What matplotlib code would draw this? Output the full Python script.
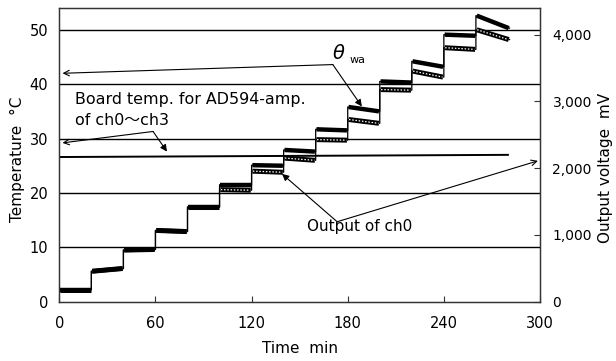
import matplotlib
matplotlib.use("Agg")
import matplotlib.pyplot as plt

# ---- data ----
step_start = [0, 20, 40, 60, 80, 100, 120, 140, 160, 180, 200, 220, 240, 260]
step_end = [20, 40, 60, 80, 100, 120, 140, 160, 180, 200, 220, 240, 260, 281]
theta_wa_start = [2.2, 5.6, 9.5, 13.1, 17.4, 21.5, 25.1, 27.9, 31.7, 35.8, 40.5, 44.2, 49.1, 52.6]
theta_wa_end = [2.2, 6.1, 9.6, 12.9, 17.4, 21.5, 25.0, 27.6, 31.5, 35.0, 40.3, 43.2, 48.9, 50.3]
ch0_start = [2.2, 5.6, 9.5, 13.1, 17.4, 20.6, 24.0, 26.4, 29.8, 33.5, 39.0, 42.4, 46.7, 50.0]
ch0_end = [2.2, 6.1, 9.6, 12.9, 17.4, 20.5, 23.8, 26.0, 29.7, 32.8, 38.9, 41.3, 46.4, 48.2]
board_t = [0, 280]
board_temp = [26.6, 27.0]

x_ticks = [0, 60, 120, 180, 240, 300]
left_ticks = [0, 10, 20, 30, 40, 50]
right_ticks = [0, 1000, 2000, 3000, 4000]
right_labels = ["0", "1,000", "2,000", "3,000", "4,000"]

FONT = ["DejaVu Sans", "Noto Sans CJK JP"]
plt.rcParams["font.family"] = FONT

fig = plt.figure(figsize=(6.16, 3.61), dpi=100)
ax = fig.add_axes([0.0963, 0.1643, 0.7803, 0.8135])
ax.set_xlim(0, 300)
ax.set_ylim(0, 54)

for s in ax.spines.values():
    s.set_color("#333333")
    s.set_linewidth(0.9)

# horizontal grid lines
for v in left_ticks[1:]:
    ax.axhline(v, color="black", lw=1.0, zorder=1)

# board temperature line
ax.plot(board_t, board_temp, color="black", lw=1.4, zorder=2)


def stepped(starts, ends):
    xs, ys = [], []
    for t0, t1, a, b in zip(step_start, step_end, starts, ends):
        xs += [t0, t1]
        ys += [a, b]
    return xs, ys


# thin connecting lines (vertical rises)
for sv, ev in [(ch0_start, ch0_end), (theta_wa_start, theta_wa_end)]:
    xs, ys = stepped(sv, ev)
    ax.plot(xs, ys, color="black", lw=0.9, zorder=3)

# plateaus
for t0, t1, a, b in zip(step_start, step_end, ch0_start, ch0_end):
    ax.plot([t0 + 0.5, t1 - 0.5], [a, b], color="black", lw=3.6,
            solid_capstyle="butt", zorder=4)
    ax.plot([t0 + 0.8, t1 - 0.8], [a, b], color="white", lw=0.9,
            linestyle=(0, (1.2, 1.4)), zorder=5)
for t0, t1, a, b in zip(step_start, step_end, theta_wa_start, theta_wa_end):
    ax.plot([t0 + 0.5, t1 - 0.5], [a, b], color="black", lw=3.2,
            solid_capstyle="butt", zorder=6)

# ticks
ax.set_xticks(x_ticks)
ax.set_xticklabels([str(v) for v in x_ticks], fontsize=10.5)
ax.tick_params(axis="x", direction="in", length=4, pad=10, color="#333333")
ax.set_yticks(left_ticks)
ax.set_yticklabels([str(v) for v in left_ticks], fontsize=10.5)
ax.tick_params(axis="y", length=0, pad=8)

ax2 = ax.twinx()
ax2.set_ylim(0, 4400)
ax2.set_yticks(right_ticks)
ax2.set_yticklabels(right_labels, fontsize=10)
ax2.tick_params(axis="y", direction="in", length=4, pad=9, color="#333333")
for s in ax2.spines.values():
    s.set_color("#333333")
    s.set_linewidth(0.9)

# axis labels
fig.text(0.029, 0.56, "Temperature  \u00b0C", rotation=90, ha="center",
         va="center", fontsize=11)
fig.text(0.983, 0.535, "Output voltage  mV", rotation=90, ha="center",
         va="center", fontsize=11)
fig.text(0.487, 0.036, "Time  min", ha="center", va="center", fontsize=11)

# annotations
open_arrow = dict(arrowstyle="->", lw=0.8, color="black", shrinkA=0, shrinkB=0)
fill_arrow = dict(arrowstyle="-|>", lw=0.8, color="black", shrinkA=0,
                  shrinkB=0, mutation_scale=10)

# theta_wa
ax.text(174.5, 45.7, r"$\theta$", fontsize=14, ha="center", va="center")
ax.text(186, 44.4, "wa", fontsize=8, ha="center", va="center")
ax.annotate("", xy=(2.0, 42.0), xytext=(170.7, 43.6), arrowprops=open_arrow)
ax.annotate("", xy=(188.8, 35.9), xytext=(170.7, 43.6), arrowprops=fill_arrow)

# board temp
ax.text(9.8, 37.1, "Board temp. for AD594-amp.", fontsize=11.4, ha="left",
        va="center")
ax.text(9.8, 33.4, "of ch0\uff5ech3", fontsize=11.4, ha="left", va="center")
ax.annotate("", xy=(2.0, 29.2), xytext=(58.5, 31.3), arrowprops=open_arrow)
ax.annotate("", xy=(67.2, 27.6), xytext=(58.5, 31.3), arrowprops=fill_arrow)

# output of ch0
ax.text(154.5, 13.8, "Output of ch0", fontsize=11, ha="left", va="center")
ax.annotate("", xy=(139.0, 23.5), xytext=(173.4, 14.7), arrowprops=fill_arrow)
ax.annotate("", xy=(298.7, 25.9), xytext=(173.4, 14.7), arrowprops=open_arrow,
            annotation_clip=False)

fig.savefig("out.png", dpi=100)
